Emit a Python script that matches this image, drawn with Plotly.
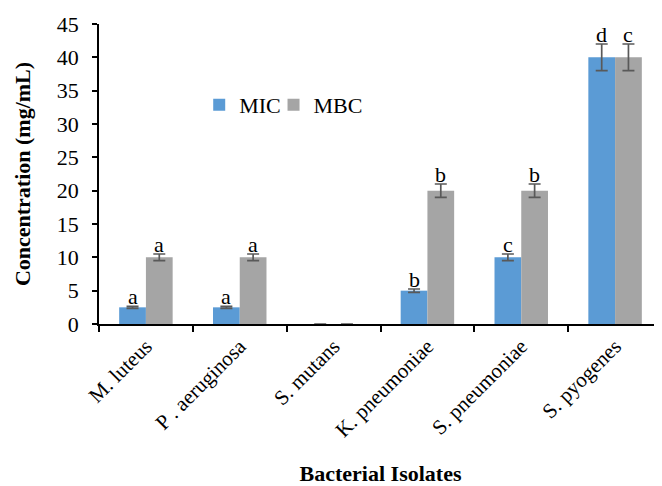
import plotly.graph_objects as go

categories = ["M. luteus", "P . aeruginosa", "S. mutans", "K. pneumoniae", "S. pneumoniae", "S. pyogenes"]
mic = [2.5, 2.5, 0, 5, 10, 40]
mbc = [10, 10, 0, 20, 20, 40]
mic_err = [0.15, 0.15, 0, 0.25, 0.5, 2]
mbc_err = [0.5, 0.5, 0, 1, 1, 2]
mic_letters = ["a", "a", "", "b", "c", "d"]
mbc_letters = ["a", "a", "", "b", "b", "c"]

BLUE = "#5B9BD5"
GRAY = "#A5A5A5"
ERR = "#595959"
FONT = "Liberation Serif"
FS = 22

fig = go.Figure()
fig.add_trace(go.Bar(name="MIC", x=categories, y=mic, marker_color=BLUE,
                     marker_line_width=0, legend="legend",
                     error_y=dict(type="data", array=mic_err, color=ERR, thickness=1.7, width=6, visible=True)))
fig.add_trace(go.Bar(name="MBC", x=categories, y=mbc, marker_color=GRAY,
                     marker_line_width=0, legend="legend2",
                     error_y=dict(type="data", array=mbc_err, color=ERR, thickness=1.7, width=6, visible=True)))

for i, c in enumerate(categories):
    for vals, errs, letters, shift in ((mic, mic_err, mic_letters, -13.3), (mbc, mbc_err, mbc_letters, 13.3)):
        if letters[i]:
            fig.add_annotation(x=c, y=vals[i] + errs[i], text=letters[i], showarrow=False,
                               xshift=shift, yshift=-5, yanchor="bottom",
                               font=dict(family=FONT, size=FS, color="black"))

legend_style = dict(orientation="h", xanchor="left", yanchor="middle",
                    font=dict(family=FONT, size=FS, color="black"), bgcolor="rgba(0,0,0,0)",
                    itemwidth=30, tracegroupgap=0)

# page body has an 8px margin, so the figure is offset by 8px
fig.update_layout(
    width=654, height=478,
    margin=dict(l=91, r=0, t=16, b=162),
    paper_bgcolor="white", plot_bgcolor="white",
    barmode="group", bargap=0.43, bargroupgap=0,
    font=dict(family=FONT, size=FS, color="black"),
    showlegend=True,
    legend=dict(x=0.178, y=0.73, **legend_style),
    legend2=dict(x=0.31, y=0.73, **legend_style),
    xaxis=dict(showline=True, linecolor="black", linewidth=1.5, ticks="outside",
               tickson="boundaries", ticklen=6, tickcolor="black", tickwidth=1.5,
               tickangle=-45, tickfont=dict(family=FONT, size=21),
               title=dict(text="<b>Bacterial Isolates</b>", font=dict(family=FONT, size=FS), standoff=28),
               automargin=False),
    yaxis=dict(range=[0, 45], dtick=5, showline=True, linecolor="black", linewidth=1.5,
               ticks="outside", ticklen=5, tickcolor="black", tickwidth=1.5,
               ticklabelstandoff=9,
               showgrid=False, zeroline=False, tickfont=dict(family=FONT, size=FS),
               title=dict(text="<b>Concentration (mg/mL)</b>", font=dict(family=FONT, size=FS), standoff=20),
               automargin=False),
)

fig.write_html("out.html")
